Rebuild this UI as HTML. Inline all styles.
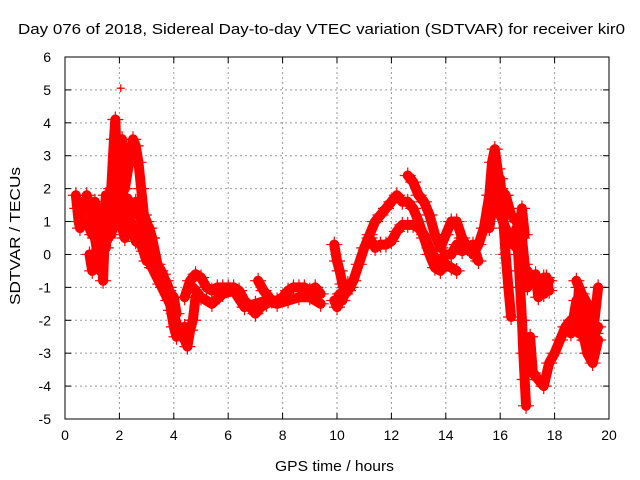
<!DOCTYPE html>
<html><head><meta charset="utf-8"><style>
body{margin:0;background:#fff}
svg{display:block;font-family:"Liberation Sans",sans-serif}
</style></head><body>
<svg id="chart" width="640" height="480">
<text x="18" y="34" font-size="14.5" textLength="607" lengthAdjust="spacingAndGlyphs">Day 076 of 2018, Sidereal Day-to-day VTEC variation (SDTVAR) for receiver kir0</text>
<text x="275" y="471" font-size="14.5" textLength="119" lengthAdjust="spacingAndGlyphs">GPS time / hours</text>
<text transform="translate(20,305) rotate(-90)" font-size="14.5" textLength="138" lengthAdjust="spacingAndGlyphs">SDTVAR / TECUs</text>
<g id="grid"></g>
<g id="marks"></g>
<rect x="65" y="57" width="544" height="362" fill="none" stroke="#000" stroke-width="1"/>
<g id="ticks"></g>
</svg>
<script>
const xTicks=[0,2,4,6,8,10,12,14,16,18,20];
const yTicks=[-5,-4,-3,-2,-1,0,1,2,3,4,5,6];
const track1=[[0.4,1.8],[0.45,1.4],[0.5,1.0],[0.55,0.8],[0.6,1.2],[0.65,1.6]];
const track2=[[0.8,1.8],[0.9,1.5],[1.0,1.2],[1.1,0.5],[1.2,0.0],[1.3,-0.5],[1.35,1.3],[1.45,0.8],[1.5,1.8],[1.6,0.5],[1.7,2.0],[1.8,3.5],[1.85,4.1],[1.9,3.0],[2.0,2.0],[2.1,2.3],[2.2,1.3],[2.3,1.7],[2.4,1.5],[2.5,1.2],[2.6,1.6],[2.7,1.3],[2.8,1.0],[2.9,0.6],[3.0,0.2],[3.1,0.8],[3.2,0.5],[3.3,-0.3],[3.4,-0.5],[3.5,-0.5],[3.6,-1.0],[3.7,-0.8],[3.8,-1.0],[3.9,-1.7],[4.0,-2.2],[4.1,-2.5],[4.2,-2.2],[4.3,-2.4],[4.4,-2.6],[4.5,-2.8],[4.6,-2.3],[4.7,-2.0],[4.8,-1.3]];
const track3=[[2.0,2.2],[2.1,3.5],[2.2,2.0],[2.4,3.0],[2.5,3.5],[2.6,3.3],[2.7,2.8],[2.8,2.0],[2.9,1.2],[3.0,1.0],[3.2,0.5],[3.4,-0.3],[3.6,-0.6],[3.8,-1.1],[4.0,-1.3],[4.1,-1.8]];
const track4=[[0.9,0.0],[1.0,-0.5],[1.1,-0.3],[1.2,0.6],[1.3,1.0],[1.4,-0.8],[1.5,1.5],[1.7,1.0],[1.9,1.0],[2.1,0.8],[2.2,0.5],[2.4,1.0],[2.6,0.4],[2.8,0.3],[3.0,-0.2]];
const track4b=[[0.8,1.0],[1.0,0.6],[1.1,1.6],[1.2,1.2],[1.3,0.4],[1.4,1.0],[1.5,0.2],[1.6,1.4],[1.7,0.6],[1.8,1.8],[1.9,0.9],[2.0,1.4],[2.3,0.9],[2.6,0.8],[2.9,0.1],[3.2,-0.4],[3.5,-0.9],[3.8,-1.4],[4.0,-1.8],[4.2,-2.4],[4.4,-2.2]];
const track5=[[4.4,-1.3],[4.6,-0.8],[4.8,-0.6],[5.0,-0.7],[5.2,-1.0],[5.4,-1.1],[5.6,-1.0],[5.8,-1.0],[6.0,-1.0],[6.2,-1.0],[6.4,-1.1],[6.6,-1.4],[6.8,-1.6],[7.0,-1.8],[7.2,-1.6],[7.4,-1.5],[7.6,-1.4],[7.8,-1.4],[8.0,-1.3],[8.2,-1.1],[8.4,-1.0],[8.6,-1.0],[8.8,-1.0],[9.0,-1.1],[9.2,-1.0],[9.4,-1.2]];
const track6=[[4.7,-1.0],[5.0,-1.3],[5.4,-1.5],[5.8,-1.2],[6.2,-1.1],[6.6,-1.6],[7.0,-1.5],[7.4,-1.4],[7.8,-1.5],[8.2,-1.4],[8.6,-1.3],[9.0,-1.3],[9.4,-1.5]];
const track7=[[7.1,-0.8],[7.3,-1.1],[7.6,-1.4]];
const track8=[[9.9,0.3],[10.0,-0.2],[10.1,-0.5],[10.2,-0.9],[10.3,-1.2],[10.4,-1.1],[10.6,-0.8],[10.8,-0.3],[11.0,0.2],[11.2,0.6],[11.4,1.0],[11.6,1.2],[11.8,1.4],[12.0,1.6],[12.2,1.8],[12.4,1.6],[12.6,1.6],[12.8,1.4],[13.0,1.0],[13.2,0.5],[13.4,0.0],[13.6,-0.4],[13.8,-0.5],[14.0,-0.3],[14.2,-0.4],[14.4,-0.5]];
const track9=[[11.2,0.5],[11.4,0.2],[11.6,0.3],[11.8,0.3],[12.0,0.4],[12.2,0.7],[12.4,0.9],[12.6,0.9],[12.8,0.9],[13.0,0.8],[13.2,0.6],[13.4,0.2],[13.6,-0.1],[13.8,-0.3],[14.0,0.0],[14.2,0.0],[14.4,0.3],[14.6,0.1],[14.8,0.2],[15.0,0.3],[15.2,-0.2]];
const track10=[[12.6,2.4],[12.8,2.2],[13.0,1.8],[13.2,1.6],[13.4,1.2],[13.6,0.6],[13.8,0.2],[14.0,0.6],[14.2,1.0],[14.4,1.0],[14.6,0.5],[14.8,0.2]];
const track11=[[9.9,-1.4],[10.0,-1.6],[10.1,-1.2],[10.2,-1.4],[10.3,-1.0],[10.4,-0.9],[10.5,-1.0]];
const track12=[[15.0,0.0],[15.2,0.3],[15.4,0.8],[15.6,1.8],[15.7,2.8],[15.8,3.2],[15.9,2.6],[16.0,2.0],[16.2,1.8],[16.4,1.2],[16.6,1.0],[16.8,0.5],[16.9,-0.3],[17.0,-1.0]];
const track12b=[[15.6,0.8],[15.8,2.0],[16.0,1.2],[16.2,0.8],[16.4,0.4],[16.6,0.2],[16.8,1.4],[16.9,0.6]];
const track13=[[16.0,2.3],[16.1,1.2],[16.2,0.0],[16.3,-1.0],[16.4,-1.9]];
const track14=[[16.6,0.8],[16.7,-0.5],[16.8,-2.0],[16.85,-3.0],[16.9,-3.8],[16.95,-4.6]];
const track15=[[17.0,-0.5],[17.2,-0.8],[17.4,-1.0],[17.6,-0.7],[17.8,-0.8]];
const track15b=[[17.3,-0.6],[17.4,-1.3],[17.5,-0.9],[17.6,-1.2],[17.7,-0.7],[17.8,-1.1]];
const track16=[[17.1,-2.5],[17.2,-3.6],[17.4,-3.8],[17.6,-4.0],[17.8,-3.3],[18.0,-3.0],[18.2,-2.6],[18.4,-2.2],[18.6,-2.0],[18.8,-2.0],[18.9,-1.0],[19.0,-2.2],[19.2,-3.0],[19.4,-3.3],[19.6,-2.6]];
const track17=[[18.8,-0.8],[19.0,-1.2],[19.2,-1.5],[19.4,-2.5],[19.6,-1.0]];
const track17b=[[18.6,-2.4],[18.8,-1.4],[18.9,-2.4],[19.0,-1.6],[19.1,-2.6],[19.2,-2.0],[19.3,-2.8],[19.5,-2.4],[19.6,-2.2]];
const tracks=[track1,track2,track3,track4,track4b,track5,track6,track7,track8,track9,track10,track11,track12,track12b,track13,track14,track15,track15b,track16,track17,track17b];
const X0=65,X1=609,Y0=419,Y1=57;
const xs=t=>X0+(t-0)/(20-0)*(X1-X0);
const ys=v=>Y0-(v-(-5))/(6-(-5))*(Y0-Y1);
const NS='http://www.w3.org/2000/svg';
const grid=document.getElementById('grid'),ticks=document.getElementById('ticks'),marks=document.getElementById('marks');
function mk(tag,attrs,parent){const e=document.createElementNS(NS,tag);for(const k in attrs)e.setAttribute(k,attrs[k]);parent.appendChild(e);return e;}
xTicks.forEach(t=>{const x=xs(t);
 if(t>0&&t<20){const g=mk('line',{x1:x,x2:x,y1:Y1,y2:Y0,stroke:'#999','stroke-dasharray':'2,3'},grid);
 
 }
 mk('line',{x1:x,x2:x,y1:Y0,y2:Y0-6,stroke:'#000'},ticks);
 mk('line',{x1:x,x2:x,y1:Y1,y2:Y1+6,stroke:'#000'},ticks);
 const l=mk('text',{x:x,y:Y0+21,'font-size':'14','text-anchor':'middle'},ticks);l.textContent=t;
 
 
});
yTicks.forEach(v=>{const y=ys(v);
 if(v>-5&&v<6){const g=mk('line',{x1:X0,x2:X1,y1:y,y2:y,stroke:'#999','stroke-dasharray':'2,3'},grid);
 
 }
 mk('line',{x1:X0,x2:X0+6,y1:y,y2:y,stroke:'#000'},ticks);
 mk('line',{x1:X1,x2:X1-6,y1:y,y2:y,stroke:'#000'},ticks);
 const l=mk('text',{x:X0-14,y:y+5,'font-size':'14','text-anchor':'end'},ticks);l.textContent=v;
 
 
});
tracks.forEach((tr,i)=>{
 const pl=mk('polyline',{points:tr.map(p=>xs(p[0])+','+ys(p[1])).join(' '),fill:'none',stroke:'#f00','stroke-width':10,'stroke-linejoin':'round','stroke-linecap':'round'},marks);
 
 
 tr.forEach(p=>{const x=xs(p[0]),y=ys(p[1]);
  const m=mk('path',{d:`M${x-8},${y}H${x+8}M${x},${y-8}V${y+8}`,stroke:'#f00','stroke-width':1.2},marks);
  
  
 });
});
const sp=mk('path',{d:`M${xs(2.05)-4},${ys(5.05)}h8M${xs(2.05)},${ys(5.05)-4}v8`,stroke:'#f00','stroke-width':1.2},marks);


</script>
</body></html>
